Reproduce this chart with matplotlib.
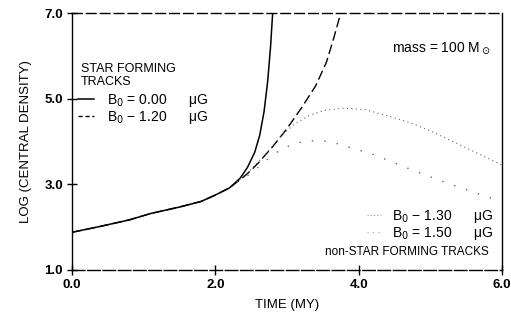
import numpy as np
import matplotlib
matplotlib.use("Agg")
import matplotlib.pyplot as plt
from matplotlib.lines import Line2D

plt.rcParams['font.family'] = ['Liberation Sans', 'DejaVu Sans']

# star forming tracks (time in Myr, log central density)
t_b000 = [0.0, 0.4, 0.8, 1.1, 1.5, 1.8, 2.0, 2.2, 2.35, 2.45, 2.55, 2.62, 2.68, 2.73, 2.77, 2.8]
d_b000 = [1.88, 2.02, 2.17, 2.32, 2.47, 2.6, 2.75, 2.92, 3.15, 3.4, 3.75, 4.15, 4.7, 5.4, 6.2, 7.0]

t_b120 = [0.0, 0.4, 0.8, 1.1, 1.5, 1.8, 2.0, 2.2, 2.4, 2.5, 2.6, 2.8, 3.0, 3.2, 3.4, 3.55, 3.65, 3.75]
d_b120 = [1.88, 2.02, 2.17, 2.32, 2.47, 2.6, 2.75, 2.92, 3.18, 3.33, 3.5, 3.88, 4.3, 4.78, 5.3, 5.85, 6.4, 7.0]

# non-star forming tracks
t_b130 = [2.3, 2.5, 2.7, 2.9, 3.1, 3.3, 3.5, 3.8, 4.1, 4.4, 4.7, 5.0, 5.5, 6.0]
d_b130 = [3.05, 3.35, 3.7, 4.1, 4.4, 4.6, 4.72, 4.78, 4.74, 4.6, 4.45, 4.25, 3.85, 3.45]

t_b150 = [2.3, 2.5, 2.7, 2.9, 3.1, 3.3, 3.6, 3.9, 4.2, 4.5, 4.8, 5.2, 5.6, 5.9]
d_b150 = [3.05, 3.25, 3.55, 3.8, 3.95, 4.02, 4.0, 3.85, 3.7, 3.5, 3.3, 3.05, 2.82, 2.65]

xticks = [0.0, 2.0, 4.0, 6.0]
xticklabels = ['0.0', '2.0', '4.0', '6.0']
yticks = [1.0, 3.0, 5.0, 7.0]
yticklabels = ['1.0', '3.0', '5.0', '7.0']

fig = plt.figure(figsize=(5.11, 3.16), dpi=100)
ax = fig.add_axes([72 / 511, 1 - 270 / 316, 430 / 511, 257 / 316])

ax.plot(t_b000, d_b000, color='black', lw=1.1, ls='-')
ax.plot(t_b120, d_b120, color='black', lw=1.0, ls=(0, (7, 3)))
ax.plot(t_b130, d_b130, color='#666666', lw=0.8, ls=(0, (1, 3)))
ax.plot(t_b150, d_b150, color='#666666', lw=1.0, ls=(0, (1, 8)))

ax.set_xlim(0, 6)
ax.set_ylim(1, 7)
ax.set_xticks(xticks)
ax.set_xticklabels(xticklabels)
ax.set_yticks(yticks)
ax.set_yticklabels(yticklabels)
ax.tick_params(direction='inout', length=7, width=1, labelsize=9.5, pad=3)
for lab in ax.get_xticklabels() + ax.get_yticklabels():
    lab.set_fontweight('bold')
for s in ax.spines.values():
    s.set_linewidth(1.0)
ax.spines['top'].set_linestyle((0, (7, 3)))
ax.spines['bottom'].set_linestyle((0, (9, 2)))

ax.set_xlabel('TIME (MY)', fontsize=9.5, labelpad=6)
ax.set_ylabel('LOG (CENTRAL DENSITY)', fontsize=9.5, labelpad=9)

# star forming legend
ax.text(0.02, 0.805, 'STAR FORMING\nTRACKS', transform=ax.transAxes,
        fontsize=9, ha='left', va='top', linespacing=1.05)
h1 = [Line2D([], [], color='black', lw=1.1, ls='-'),
      Line2D([], [], color='black', lw=1.0, ls=(0, (3, 2)))]
leg1 = ax.legend(h1, ['B$_0$ = 0.00      μG', 'B$_0$ − 1.20      μG'],
                 loc='upper left', bbox_to_anchor=(0.0, 0.715), frameon=False,
                 fontsize=10, handlelength=1.2, handletextpad=0.9,
                 labelspacing=0.0, borderaxespad=0.2, borderpad=0.2)
ax.add_artist(leg1)

# non-star forming legend
h2 = [Line2D([], [], color='#999999', lw=0.8, ls=(0, (1, 2))),
      Line2D([], [], color='#999999', lw=0.8, ls=(0, (1, 4)))]
ax.legend(h2, ['B$_0$ − 1.30      μG', 'B$_0$ = 1.50      μG'],
          loc='lower right', bbox_to_anchor=(0.985, 0.105), frameon=False,
          fontsize=10, handlelength=1.0, handletextpad=0.8,
          labelspacing=0.0, borderaxespad=0.0, borderpad=0.1)
ax.text(0.97, 0.07, 'non-STAR FORMING TRACKS', transform=ax.transAxes,
        fontsize=8.5, ha='right', va='center')

ax.text(0.975, 0.865, 'mass = 100 M$_\\odot$', transform=ax.transAxes,
        fontsize=10, ha='right', va='center')

fig.savefig('out.png', dpi=100)
